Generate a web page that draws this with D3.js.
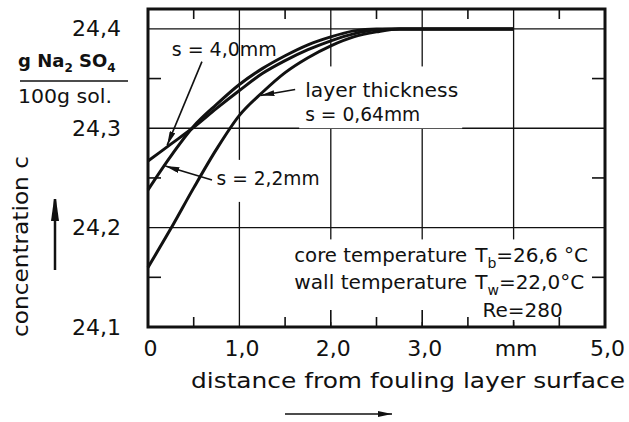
<!DOCTYPE html>
<html>
<head>
<meta charset="utf-8">
<script src="https://cdn.jsdelivr.net/npm/d3@7"></script>
<style>
  body { margin: 0; background: #fff; }
  svg { display: block; }
  text { font-family: "DejaVu Sans", sans-serif; fill: #111; }
</style>
</head>
<body>
<div id="chart"></div>
<script>
// concentration profiles
const distance = [0, 0.25, 0.5, 0.75, 1.0, 1.25, 1.5, 1.75, 2.0, 2.25, 2.5, 2.75, 3.0, 3.5, 4.0];
const conc064 = [24.160, 24.199, 24.240, 24.279, 24.313, 24.336, 24.356, 24.371, 24.383, 24.392, 24.397, 24.400, 24.400, 24.400, 24.400];
const conc22  = [24.238, 24.272, 24.302, 24.324, 24.344, 24.360, 24.373, 24.384, 24.392, 24.398, 24.400, 24.400, 24.400, 24.400, 24.400];
const conc40  = [24.267, 24.284, 24.301, 24.320, 24.338, 24.355, 24.368, 24.379, 24.388, 24.395, 24.399, 24.400, 24.400, 24.400, 24.400];

const yTicks = [24.1, 24.2, 24.3, 24.4];
const yTickLabels = ["24,1", "24,2", "24,3", "24,4"];
const xTicks = [0, 1, 2, 3, 4, 5];
const xTickLabels = ["0", "1,0", "2,0", "3,0", "mm", "5,0"];
const xMinor = [0.5, 1.5, 2.5, 3.5, 4.5];
const yMinor = [24.15, 24.25, 24.35];

const width = 629;
const height = 422;
const margin = { left: 148, right: 24, top: 9, bottom: 95 };

const svg = d3.select("#chart")
  .append("svg")
  .attr("width", width)
  .attr("height", height)
  .attr("viewBox", [0, 0, width, height]);

const x = d3.scaleLinear()
  .domain([0, 5])
  .range([margin.left, width - margin.right]);

const y = d3.scaleLinear()
  .domain([24.1, 24.42])
  .range([height - margin.bottom, margin.top]);

// arrowhead markers
const defs = svg.append("defs");
defs.append("marker")
  .attr("id", "head")
  .attr("viewBox", "0 0 14 6")
  .attr("refX", 14).attr("refY", 3)
  .attr("markerWidth", 14).attr("markerHeight", 6)
  .attr("markerUnits", "userSpaceOnUse")
  .attr("orient", "auto")
  .append("path")
  .attr("d", "M0,0 L14,3 L0,6 Z")
  .attr("fill", "#111");
defs.append("marker")
  .attr("id", "bighead")
  .attr("viewBox", "0 0 22 8")
  .attr("refX", 22).attr("refY", 4)
  .attr("markerWidth", 22).attr("markerHeight", 8)
  .attr("markerUnits", "userSpaceOnUse")
  .attr("orient", "auto")
  .append("path")
  .attr("d", "M0,0 L22,3 L22,5 L0,8 Z")
  .attr("fill", "#111");

// layers
const gGrid = svg.append("g");
const gHalo = svg.append("g");
const gFrame = svg.append("g");
const gCurves = svg.append("g");
const gText = svg.append("g");

/* grid */
gGrid.selectAll(".hgrid")
  .data(yTicks.slice(1))
  .enter()
  .append("line")
  .attr("x1", x(0)).attr("x2", x(5))
  .attr("y1", d => y(d)).attr("y2", d => y(d))
  .attr("stroke", "#111").attr("stroke-width", 1.3);

gGrid.selectAll(".vgrid")
  .data([1, 2, 3, 4])
  .enter()
  .append("line")
  .attr("x1", d => x(d)).attr("x2", d => x(d))
  .attr("y1", y(24.42)).attr("y2", y(24.1))
  .attr("stroke", "#111").attr("stroke-width", 1.3);

/* frame and ticks */
gFrame.append("rect")
  .attr("x", x(0)).attr("y", y(24.42))
  .attr("width", x(5) - x(0)).attr("height", y(24.1) - y(24.42))
  .attr("fill", "none").attr("stroke", "#111").attr("stroke-width", 3);

// minor ticks top and bottom
xMinor.forEach(v => {
  gFrame.append("line")
    .attr("x1", x(v)).attr("x2", x(v))
    .attr("y1", y(24.42)).attr("y2", y(24.42) + 10)
    .attr("stroke", "#111").attr("stroke-width", 1.6);
  gFrame.append("line")
    .attr("x1", x(v)).attr("x2", x(v))
    .attr("y1", y(24.1)).attr("y2", y(24.1) - 10)
    .attr("stroke", "#111").attr("stroke-width", 1.6);
});
// longer ticks at bottom
[2, 3, 4].forEach(v => {
  gFrame.append("line")
    .attr("x1", x(v)).attr("x2", x(v))
    .attr("y1", y(24.1)).attr("y2", y(24.1) - (v === 4 ? 7 : 17))
    .attr("stroke", "#111").attr("stroke-width", 1.6);
});
// minor ticks left and right
yMinor.forEach(v => {
  gFrame.append("line")
    .attr("x1", x(0)).attr("x2", x(0) + 13)
    .attr("y1", y(v)).attr("y2", y(v))
    .attr("stroke", "#111").attr("stroke-width", 1.6);
  gFrame.append("line")
    .attr("x1", x(5)).attr("x2", x(5) - 13)
    .attr("y1", y(v)).attr("y2", y(v))
    .attr("stroke", "#111").attr("stroke-width", 1.6);
});

/* axes labels */
svg.append("g")
  .attr("transform", `translate(${x(0)},0)`)
  .call(d3.axisLeft(y).tickValues(yTicks).tickSize(0).tickPadding(27)
    .tickFormat((d, i) => yTickLabels[i]))
  .call(g => g.select(".domain").remove())
  .call(g => g.selectAll("text")
    .attr("font-family", "DejaVu Sans").attr("font-size", 22)
    .attr("fill", "#111").attr("dy", "0.32em"));

svg.append("g")
  .attr("transform", `translate(0,${y(24.1)})`)
  .call(d3.axisBottom(x).tickValues(xTicks).tickSize(0).tickPadding(13)
    .tickFormat((d, i) => xTickLabels[i]))
  .call(g => g.select(".domain").remove())
  .call(g => g.selectAll("text")
    .attr("font-family", "DejaVu Sans").attr("font-size", 22)
    .attr("fill", "#111").attr("dx", 2));

/* curves */
const line = d3.line()
  .x((d, i) => x(distance[i]))
  .y(d => y(d))
  .curve(d3.curveMonotoneX);

gCurves.selectAll(".curve")
  .data([conc064, conc22, conc40])
  .enter()
  .append("path")
  .attr("d", line)
  .attr("fill", "none")
  .attr("stroke", "#111")
  .attr("stroke-width", 3)
  .attr("stroke-linejoin", "round");

/* annotations */
function halo(sel, pad) {
  const b = sel.node().getBBox();
  gHalo.append("rect")
    .attr("x", b.x - pad[3]).attr("y", b.y - pad[0])
    .attr("width", b.width + pad[1] + pad[3])
    .attr("height", b.height + pad[0] + pad[2])
    .attr("fill", "#fff");
}

function label(g, txt, px, py, size, len) {
  const t = g.append("text")
    .attr("x", px).attr("y", py)
    .attr("font-size", size)
    .text(txt);
  if (len) t.attr("textLength", len).attr("lengthAdjust", "spacingAndGlyphs");
  return t;
}

// s = 4,0mm
label(gText, "s = 4,0mm", x(0.26), y(24.373), 20, 105);
gText.append("line")
  .attr("x1", x(0.59)).attr("y1", y(24.367))
  .attr("x2", x(0.21)).attr("y2", y(24.283))
  .attr("stroke", "#111").attr("stroke-width", 1.6)
  .attr("marker-end", "url(#head)");

// s = 2,2mm
const g22 = gText.append("g");
label(g22, "s = 2,2mm", x(0.75), y(24.243), 20, 103);
halo(g22, [6, 4, 12, 4]);
gText.append("line")
  .attr("x1", x(0.70)).attr("y1", y(24.248))
  .attr("x2", x(0.19)).attr("y2", y(24.262))
  .attr("stroke", "#111").attr("stroke-width", 1.6)
  .attr("marker-end", "url(#head)");

// layer thickness s = 0,64mm
const g064 = gText.append("g");
label(g064, "layer thickness", x(1.72), y(24.331), 20, 153);
label(g064, "s = 0,64mm", x(1.72), y(24.307), 20, 115);
halo(g064, [12, 4, 2, 6]);
gText.append("line")
  .attr("x1", x(1.61)).attr("y1", y(24.339))
  .attr("x2", x(1.23)).attr("y2", y(24.333))
  .attr("stroke", "#111").attr("stroke-width", 1.6)
  .attr("marker-end", "url(#head)");

// operating conditions
const gCond = gText.append("g");
label(gCond, "core temperature", x(1.6), y(24.165), 20, 173);
label(gCond, "wall temperature", x(1.6), y(24.138), 20, 173);
const t1 = gCond.append("text").attr("x", x(3.58)).attr("y", y(24.165)).attr("font-size", 20);
t1.append("tspan").text("T");
t1.append("tspan").attr("font-size", 14).attr("dy", 6).text("b");
t1.append("tspan").attr("dy", -6).text("=26,6 °C");
const t2 = gCond.append("text").attr("x", x(3.58)).attr("y", y(24.138)).attr("font-size", 20);
t2.append("tspan").text("T");
t2.append("tspan").attr("font-size", 14).attr("dy", 6).text("w");
t2.append("tspan").attr("dy", -6).text("=22,0°C");
label(gCond, "Re=280", x(3.66), y(24.11), 20);
halo(gCond, [4, 4, 0, 4]);

// unit label
const unit = svg.append("text").attr("x", 18).attr("y", 67).attr("font-size", 18).attr("font-weight", "bold");
unit.append("tspan").text("g Na");
unit.append("tspan").attr("font-size", 12).attr("dy", 5).text("2");
unit.append("tspan").attr("dy", -5).text(" SO");
unit.append("tspan").attr("font-size", 12).attr("dy", 5).text("4");
svg.append("line")
  .attr("x1", 20).attr("x2", 128).attr("y1", 81).attr("y2", 81)
  .attr("stroke", "#111").attr("stroke-width", 1.6);
svg.append("text").attr("x", 18).attr("y", 103).attr("font-size", 19)
  .attr("textLength", 94).attr("lengthAdjust", "spacingAndGlyphs")
  .text("100g sol.");

// axis titles
svg.append("text")
  .attr("transform", "translate(28,337) rotate(-90)")
  .attr("font-size", 21)
  .attr("textLength", 181).attr("lengthAdjust", "spacingAndGlyphs")
  .text("concentration c");

svg.append("text")
  .attr("x", 191).attr("y", 388)
  .attr("font-size", 21)
  .attr("textLength", 434).attr("lengthAdjust", "spacingAndGlyphs")
  .text("distance from fouling layer surface");

// direction arrows
svg.append("line")
  .attr("x1", 55).attr("y1", 270).attr("x2", 55).attr("y2", 199)
  .attr("stroke", "#111").attr("stroke-width", 2.5)
  .attr("marker-end", "url(#bighead)");
svg.append("line")
  .attr("x1", 285).attr("y1", 414).attr("x2", 392).attr("y2", 414)
  .attr("stroke", "#111").attr("stroke-width", 1.6)
  .attr("marker-end", "url(#head)");
</script>
</body>
</html>
